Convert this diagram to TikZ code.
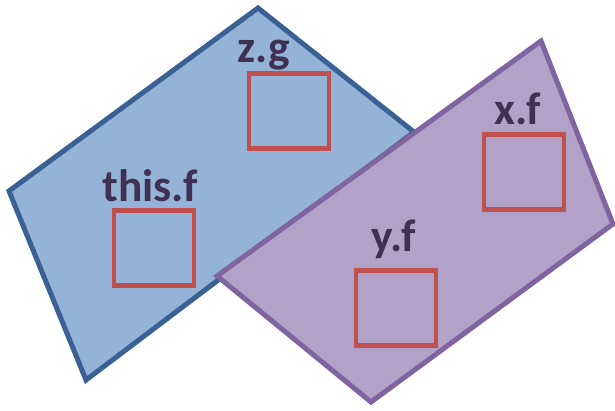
\documentclass[tikz,border=0pt]{standalone}
\usepackage{fontspec}
\setmainfont{Carlito}
\definecolor{frameblue}{HTML}{95B3D7}
\definecolor{frameblueline}{HTML}{3A6193}
\definecolor{framepurple}{HTML}{B3A2C7}
\definecolor{framepurpleline}{HTML}{8064A2}
\definecolor{slotred}{HTML}{C0504D}
\definecolor{labeltext}{HTML}{3F3151}
\begin{document}
\begin{tikzpicture}[x=1pt,y=-1pt,
  frameshape/.style={line width=5pt,line join=miter},
  slot/.style={rectangle,draw=slotred,line width=4.6pt,minimum width=80pt,minimum height=75pt,inner sep=0pt},
  fieldlabel/.style={anchor=base,inner sep=0pt,text=labeltext,font=\fontsize{45.5}{45.5}\selectfont\bfseries}]
\useasboundingbox (0,0) rectangle (615,411);

% blue frame with its two fields
\filldraw[frameshape,fill=frameblue,draw=frameblueline]
  (9,191) -- (258,8) -- (414,132) -- (86,380) -- cycle;
\node[slot] (zg) at (289,111) {};
\node[fieldlabel] (zglabel) at (264,63) {z.g};
\node[slot] (thisf) at (154,248) {};
\node[fieldlabel] (thisflabel) at (150,202) {this.f};

% purple frame with its two fields
\filldraw[frameshape,fill=framepurple,draw=framepurpleline]
  (217,276) -- (541,41) -- (613,224) -- (371,402) -- cycle;
\node[slot] (xf) at (524,172) {};
\node[fieldlabel] (xflabel) at (518,125) {x.f};
\node[slot] (yf) at (396,308) {};
\node[fieldlabel] (yflabel) at (394,252) {y.f};
\end{tikzpicture}
\end{document}
